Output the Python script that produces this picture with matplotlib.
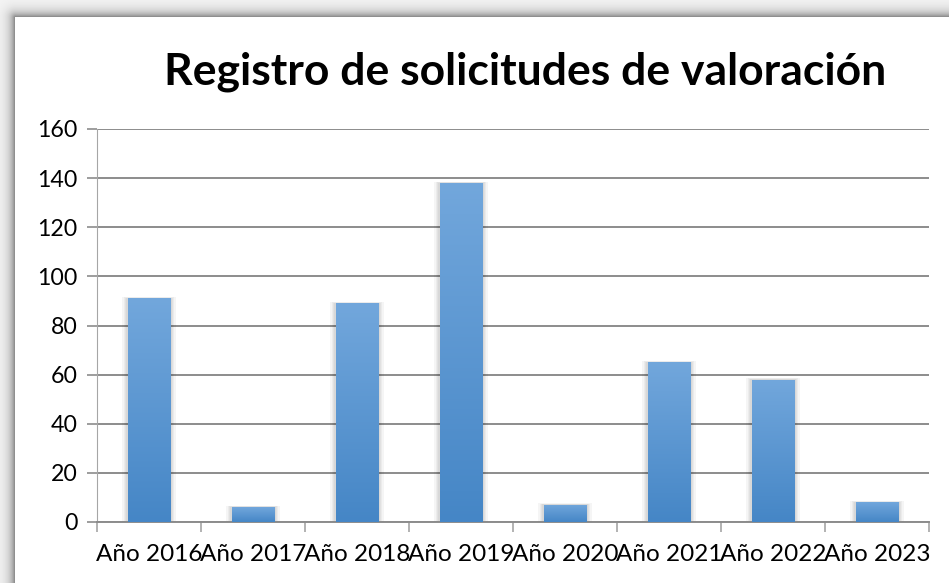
import numpy as np
import matplotlib
matplotlib.use("Agg")
import matplotlib.pyplot as plt
from matplotlib.patches import Rectangle

YEARS = ["Año 2016", "Año 2017", "Año 2018", "Año 2019",
         "Año 2020", "Año 2021", "Año 2022", "Año 2023"]
VALUES = [91, 6, 89, 138, 7, 65, 58, 8]
Y_TICKS = [0, 20, 40, 60, 80, 100, 120, 140, 160]

W, H = 949, 583
plt.rcParams["font.family"] = ["Lato", "DejaVu Sans"]

fig = plt.figure(figsize=(W / 100, H / 100), dpi=100)
fig.patch.set_facecolor("white")

# sombra del marco (arriba e izquierda)
bg = fig.add_axes([0, 0, 1, 1], zorder=0)
bg.axis("off")
yy, xx = np.mgrid[0:H, 0:W]
dx = np.clip(15 - xx, 0, None)
dy = np.clip(17 - yy, 0, None)
d = np.hypot(dx, dy)
img = np.where(d > 0, 0.96 - 0.48 * np.exp(-d / 5.5), 1.0)
bg.imshow(img, cmap="gray", vmin=0, vmax=1, extent=(0, W, H, 0), aspect="auto")
bg.set_xlim(0, W)
bg.set_ylim(H, 0)

ax = fig.add_axes([97 / W, 1 - 522 / H, (929 - 97) / W, (522 - 129) / H], zorder=1)
ax.set_facecolor("none")
x = np.arange(len(YEARS))
ax.set_xlim(-0.5, len(YEARS) - 0.5)
ax.set_ylim(0, 160)

bars = ax.bar(x, VALUES, width=0.41, color="#5b9bd5", zorder=3)
grad = np.linspace(0, 1, 256).reshape(-1, 1)
cmap = matplotlib.colors.LinearSegmentedColormap.from_list("g", ["#4586c6", "#72a7dc"])
for b in bars:
    bx, bw, bh = b.get_x(), b.get_width(), b.get_height()
    # sombra suave
    for k in range(1, 5):
        s = 0.013 * k
        ax.add_patch(Rectangle((bx - s, 0), bw + 2 * s, bh + s * 12, facecolor="#000000",
                               alpha=0.04, edgecolor="none", zorder=2))
    im = ax.imshow(grad, cmap=cmap, extent=(bx, bx + bw, 0, bh), origin="lower",
                   aspect="auto", zorder=4)
    im.set_clip_path(b)

ax.set_yticks(Y_TICKS)
ax.yaxis.grid(True, color="#8c8c8c", linewidth=1.4)
ax.set_axisbelow(True)
for s in ("top", "right"):
    ax.spines[s].set_visible(False)
ax.spines["left"].set_color("#a6a6a6")
ax.spines["bottom"].set_color("#8c8c8c")
ax.spines["bottom"].set_linewidth(1.4)
ax.tick_params(axis="y", length=7, color="#8c8c8c", labelsize=16.7, pad=7, width=1.2)
ax.set_xticks(x)
ax.set_xticklabels(YEARS)
ax.set_xticks(np.arange(len(YEARS) + 1) - 0.5, minor=True)
ax.tick_params(axis="x", which="major", length=0, labelsize=17.5, pad=16)
ax.tick_params(axis="x", which="minor", length=7, color="#a6a6a6", width=1.2)
for lab in ax.get_xticklabels() + ax.get_yticklabels():
    lab.set_color("#000000")

fig.text(525 / W, 1 - 72 / H, "Registro de solicitudes de valoración",
         ha="center", va="center", fontsize=32, fontweight="bold")

fig.savefig("out.png", dpi=100, facecolor="white")
